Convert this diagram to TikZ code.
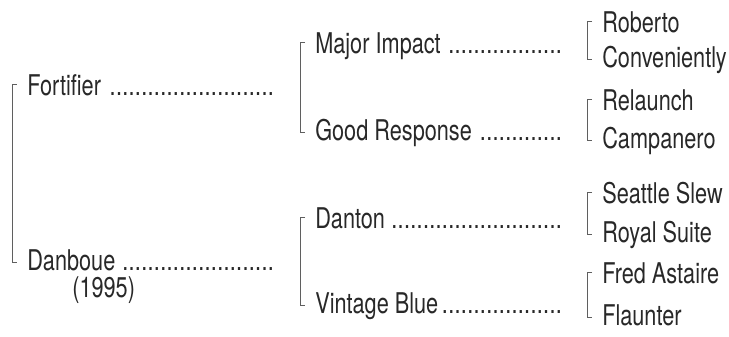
\documentclass[tikz,border=0pt]{standalone}
\usepackage{fontspec}
\setmainfont[FakeStretch=0.76]{TeX Gyre Heros}
\usepackage{tikz}
\usetikzlibrary{positioning}
\definecolor{lineColor}{RGB}{95,95,95}
\definecolor{textColor}{RGB}{40,40,40}
\tikzstyle{pedigree} = [x = 0.025cm, y = -0.025cm]
\tikzstyle{horseName} = [anchor=base west, inner sep=0pt, text=textColor, font=\fontsize{20.3}{24}\selectfont]
\tikzstyle{bracketLine} = [color=lineColor, line width=.6pt]
\newcommand{\leaderWidth}{6.325cm}
\newcommand{\tickGap}{.25cm}
\newcommand{\stemGap}{.375cm}
\newcommand{\withLeader}[1]{\hbox to \leaderWidth{#1\hspace{2pt}\leaders\hbox to 4.5pt{\hss.\hss}\hfill}}
\newcommand{\pairBracket}[2]{\draw [bracketLine] ([xshift=-\tickGap, yshift=.26cm]#1.base west) -| ([xshift=-\stemGap, yshift=.2cm]#2.base west) -- ([xshift=-\tickGap, yshift=.2cm]#2.base west);}

\begin{document}
\begin{tikzpicture}[pedigree]
            \useasboundingbox (0,0) rectangle (729,336);

            % sire and dam
            \node [horseName] (sire) at (27,95) {\withLeader{Fortifier}};
            \node [horseName] (dam) at (27,270) {\withLeader{Danboue}};
            \node [horseName, text height=12pt] (year) at (72,297) {(1995)};
            \pairBracket{sire}{dam}

            % second generation
            \node [horseName] (sireSire) at (315,53) {\withLeader{Major Impact}};
            \node [horseName] (sireDam) at (315,140) {\withLeader{Good Response}};
            \node [horseName] (damSire) at (315,228) {\withLeader{Danton}};
            \node [horseName] (damDam) at (315,313) {\withLeader{Vintage Blue}};
            \pairBracket{sireSire}{sireDam}
            \pairBracket{damSire}{damDam}

            % third generation
            \node [horseName] (ssSire) at (602,32) {Roberto};
            \node [horseName] (ssDam) at (602,67) {Conveniently};
            \node [horseName] (sdSire) at (602,110) {Relaunch};
            \node [horseName] (sdDam) at (602,148) {Campanero};
            \node [horseName] (dsSire) at (602,203) {Seattle Slew};
            \node [horseName] (dsDam) at (602,242) {Royal Suite};
            \node [horseName] (ddSire) at (602,283) {Fred Astaire};
            \node [horseName] (ddDam) at (602,325) {Flaunter};
            \pairBracket{ssSire}{ssDam}
            \pairBracket{sdSire}{sdDam}
            \pairBracket{dsSire}{dsDam}
            \pairBracket{ddSire}{ddDam}
          \end{tikzpicture}
\end{document}
